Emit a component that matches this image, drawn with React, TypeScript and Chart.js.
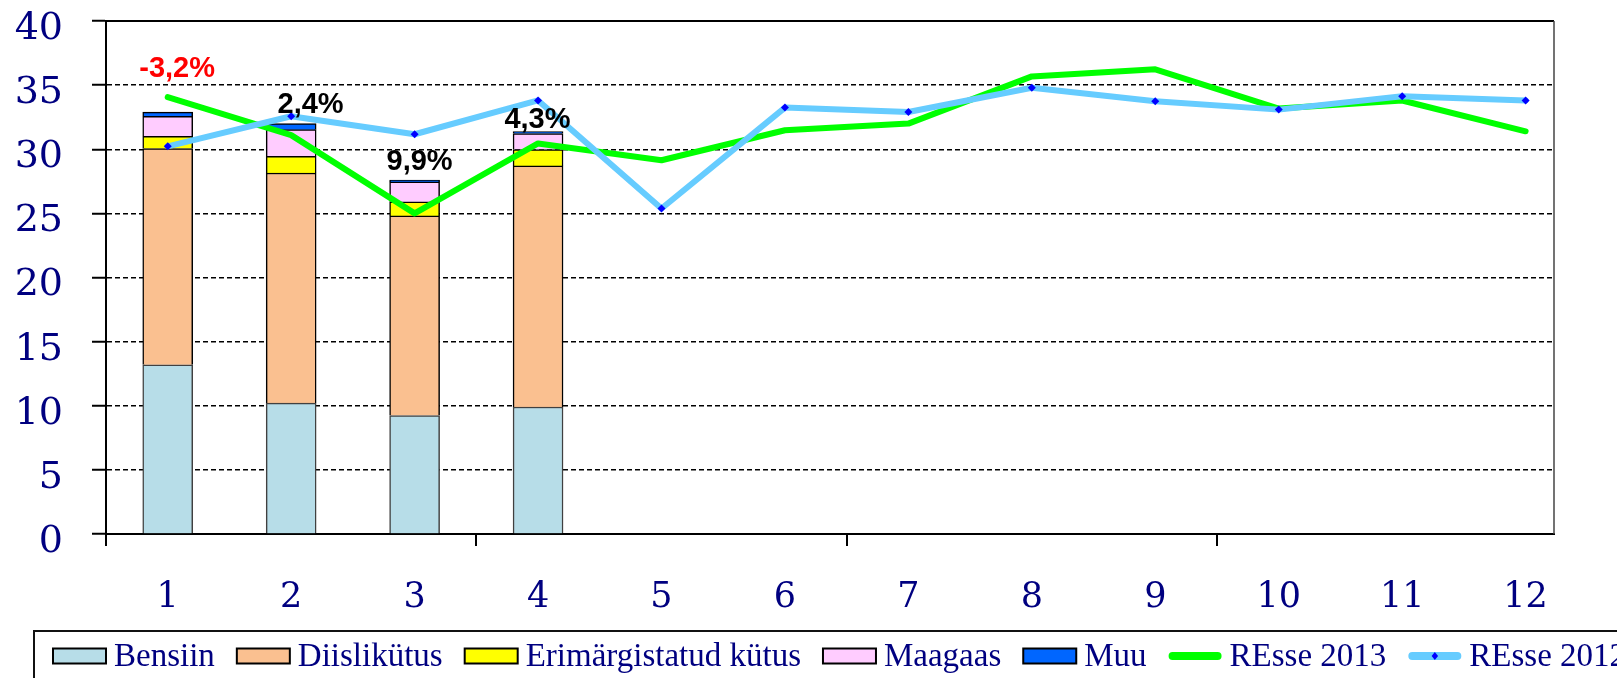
import React, { useEffect, useRef } from 'react';
import { Chart, registerables } from 'chart.js';

Chart.register(...registerables);

// ---- Data ----
const MONTHS = ['1', '2', '3', '4', '5', '6', '7', '8', '9', '10', '11', '12'];
const MONTH_X = [1, 2, 3, 4, 5, 6, 7, 8, 9, 10, 11, 12];
const BAR_X = [1, 2, 3, 4];
const BENSIIN = [13.2, 10.2, 9.24, 9.9];
const DIISLIKUTUS = [16.85, 17.95, 15.56, 18.8];
const ERIMARGISTATUD = [0.96, 1.3, 1.1, 1.28];
const MAAGAAS = [1.56, 2.08, 1.55, 1.24];
const MUU = [0.33, 0.47, 0.15, 0.15];
const RESSE_2013 = [34.06, 31.1, 25.0, 30.45, 29.14, 31.48, 32.0, 35.68, 36.23, 33.17, 33.8, 31.4];
const RESSE_2012 = [30.23, 32.57, 31.17, 33.81, 25.38, 33.25, 32.9, 34.8, 33.74, 33.09, 34.13, 33.81];

const PCT_LABELS = ['-3,2%', '2,4%', '9,9%', '4,3%'];
const PCT_COLORS = ['#FF0000', '#000000', '#000000', '#000000'];
const PCT_X = [1.076, 2.157, 3.04, 3.995];
const PCT_Y = [36.27, 33.43, 29.0, 32.26];

const Y_MIN = 0;
const Y_MAX = 40;
const Y_STEP = 5;
const X_MIN = 0.5;
const X_MAX = 12.23;
const X_TICK_MARKS = [0.5, 3.5, 6.5, 9.5];

const NAVY = '#000080';

const pts = (xs: number[], ys: number[]) => ys.map((y, i) => ({ x: xs[i], y }));

const plotBorderPlugin = {
  id: 'plotBorder',
  afterDraw(chart: any) {
    const { ctx, chartArea } = chart;
    ctx.save();
    ctx.strokeStyle = '#000';
    ctx.lineWidth = 2;
    ctx.beginPath();
    ctx.moveTo(chartArea.left, chartArea.top);
    ctx.lineTo(chartArea.right, chartArea.top);
    ctx.stroke();
    ctx.strokeStyle = '#444';
    ctx.lineWidth = 1.5;
    ctx.beginPath();
    ctx.moveTo(chartArea.right, chartArea.top);
    ctx.lineTo(chartArea.right, chartArea.bottom);
    ctx.stroke();
    ctx.restore();
  },
};

const pctLabelPlugin = {
  id: 'pctLabels',
  afterDatasetsDraw(chart: any) {
    const { ctx } = chart;
    const xs = chart.scales.x;
    const ys = chart.scales.y;
    ctx.save();
    ctx.font = 'bold 29px "Liberation Sans", Arial, sans-serif';
    ctx.textAlign = 'center';
    ctx.textBaseline = 'middle';
    PCT_LABELS.forEach((t, i) => {
      ctx.fillStyle = PCT_COLORS[i];
      ctx.fillText(t, xs.getPixelForValue(PCT_X[i]), ys.getPixelForValue(PCT_Y[i]));
    });
    ctx.restore();
  },
};

const legendPlugin = {
  id: 'boxLegend',
  afterDraw(chart: any) {
    const { ctx } = chart;
    const left = 34;
    const top = 631;
    const cy = 656;
    ctx.save();
    ctx.strokeStyle = '#111';
    ctx.lineWidth = 2;
    ctx.beginPath();
    ctx.moveTo(left, chart.height + 5);
    ctx.lineTo(left, top);
    ctx.lineTo(chart.width + 5, top);
    ctx.stroke();

    ctx.font = '33px "Liberation Serif", "Times New Roman", serif';
    ctx.textBaseline = 'middle';
    ctx.textAlign = 'left';
    let x = 53;
    chart.data.datasets.forEach((ds: any) => {
      const w = 53;
      if (ds.type === 'line') {
        ctx.strokeStyle = ds.borderColor;
        ctx.lineWidth = 8;
        ctx.lineCap = 'round';
        ctx.beginPath();
        ctx.moveTo(x + 4, cy);
        ctx.lineTo(x + w - 4, cy);
        ctx.stroke();
        if (ds.pointRadius > 0) {
          ctx.fillStyle = ds.pointBackgroundColor;
          const r = ds.pointRadius;
          const mx = x + w / 2;
          ctx.beginPath();
          ctx.moveTo(mx, cy - r);
          ctx.lineTo(mx + r * 0.8, cy);
          ctx.lineTo(mx, cy + r);
          ctx.lineTo(mx - r * 0.8, cy);
          ctx.closePath();
          ctx.fill();
        }
      } else {
        ctx.fillStyle = ds.backgroundColor;
        ctx.fillRect(x, cy - 7.5, w, 15);
        ctx.strokeStyle = '#000';
        ctx.lineWidth = 2;
        ctx.strokeRect(x, cy - 7.5, w, 15);
      }
      x += w + 8;
      ctx.fillStyle = NAVY;
      ctx.fillText(ds.label, x, cy + 1);
      x += ctx.measureText(ds.label).width + 22;
    });
    ctx.restore();
  },
};

export default function App() {
  const canvasRef = useRef<HTMLCanvasElement | null>(null);

  useEffect(() => {
    if (!canvasRef.current) return;
    const barBase = {
      type: 'bar' as const,
      stack: 'bars',
      borderColor: '#000',
      borderWidth: 1.5,
      barThickness: 50,
      order: 3,
    };
    const chart = new Chart(canvasRef.current, {
      type: 'bar',
      data: {
        datasets: [
          { ...barBase, label: 'Bensiin', data: pts(BAR_X, BENSIIN), backgroundColor: '#B7DDE8', borderColor: '#404040' },
          { ...barBase, label: 'Diislikütus', data: pts(BAR_X, DIISLIKUTUS), backgroundColor: '#FAC090' },
          { ...barBase, label: 'Erimärgistatud kütus', data: pts(BAR_X, ERIMARGISTATUD), backgroundColor: '#FFFF00' },
          { ...barBase, label: 'Maagaas', data: pts(BAR_X, MAAGAAS), backgroundColor: '#FFCCFF' },
          { ...barBase, label: 'Muu', data: pts(BAR_X, MUU), backgroundColor: '#0066FF' },
          {
            type: 'line',
            label: 'REsse 2013',
            stack: 'l2013',
            data: pts(MONTH_X, RESSE_2013),
            borderColor: '#00FF00',
            backgroundColor: '#00FF00',
            borderWidth: 6,
            pointRadius: 0,
            borderCapStyle: 'round',
            borderJoinStyle: 'round',
            tension: 0,
            order: 2,
          },
          {
            type: 'line',
            label: 'REsse 2012',
            stack: 'l2012',
            data: pts(MONTH_X, RESSE_2012),
            borderColor: '#66CCFF',
            backgroundColor: '#66CCFF',
            borderWidth: 6,
            pointRadius: 4,
            pointStyle: 'rectRot',
            pointBackgroundColor: '#0000FF',
            pointBorderColor: '#0000FF',
            pointBorderWidth: 0,
            borderCapStyle: 'round',
            borderJoinStyle: 'round',
            tension: 0,
            order: 1,
          },
        ] as any,
      },
      options: {
        responsive: false,
        maintainAspectRatio: false,
        animation: false,
        devicePixelRatio: 1,
        events: [],
        layout: { padding: { top: 21, right: 63, left: 0, bottom: 0 } },
        plugins: {
          legend: { display: false },
          tooltip: { enabled: false },
        },
        scales: {
          x: {
            type: 'linear',
            min: X_MIN,
            max: X_MAX,
            offset: false,
            afterBuildTicks: (s: any) => {
              s.ticks = [...X_TICK_MARKS, ...MONTH_X].sort((a, b) => a - b).map((v) => ({ value: v }));
            },
            ticks: {
              autoSkip: false,
              maxRotation: 0,
              color: NAVY,
              font: { family: '"DejaVu Serif", serif', size: 35, lineHeight: 1.2 },
              padding: 31,
              callback: (v: any) => {
                const i = MONTH_X.indexOf(Number(v));
                return i >= 0 ? MONTHS[i] : '';
              },
            },
            grid: {
              offset: false,
              drawOnChartArea: false,
              drawTicks: true,
              tickLength: 12,
              lineWidth: 2,
              color: (c: any) => (c.tick && X_TICK_MARKS.includes(c.tick.value) ? '#000' : 'rgba(0,0,0,0)'),
            },
            border: { display: true, color: '#000', width: 2 },
            afterFit: (s: any) => {
              s.height = 144;
              s.paddingLeft = 0;
              s.paddingRight = 0;
            },
          },
          y: {
            type: 'linear',
            min: Y_MIN,
            max: Y_MAX,
            stacked: true,
            ticks: {
              stepSize: Y_STEP,
              color: NAVY,
              font: { family: '"DejaVu Serif", serif', size: 38, lineHeight: 1.0 },
              padding: 29,
              labelOffset: 8,
            },
            grid: {
              color: '#000',
              lineWidth: 1.5,
              drawTicks: true,
              tickLength: 14,
              tickColor: '#000',
              tickWidth: 2,
            },
            border: { display: true, color: '#000', width: 2, dash: [5, 3] },
            afterFit: (s: any) => {
              s.width = 106;
              s.paddingTop = 0;
              s.paddingBottom = 0;
            },
          },
        },
      } as any,
      plugins: [plotBorderPlugin, pctLabelPlugin, legendPlugin],
    });
    return () => chart.destroy();
  }, []);

  return (
    <div style={{ position: 'fixed', left: 0, top: 0, width: 1617, height: 678, background: '#fff' }}>
      <canvas ref={canvasRef} width={1617} height={678} style={{ display: 'block' }} />
    </div>
  );
}
